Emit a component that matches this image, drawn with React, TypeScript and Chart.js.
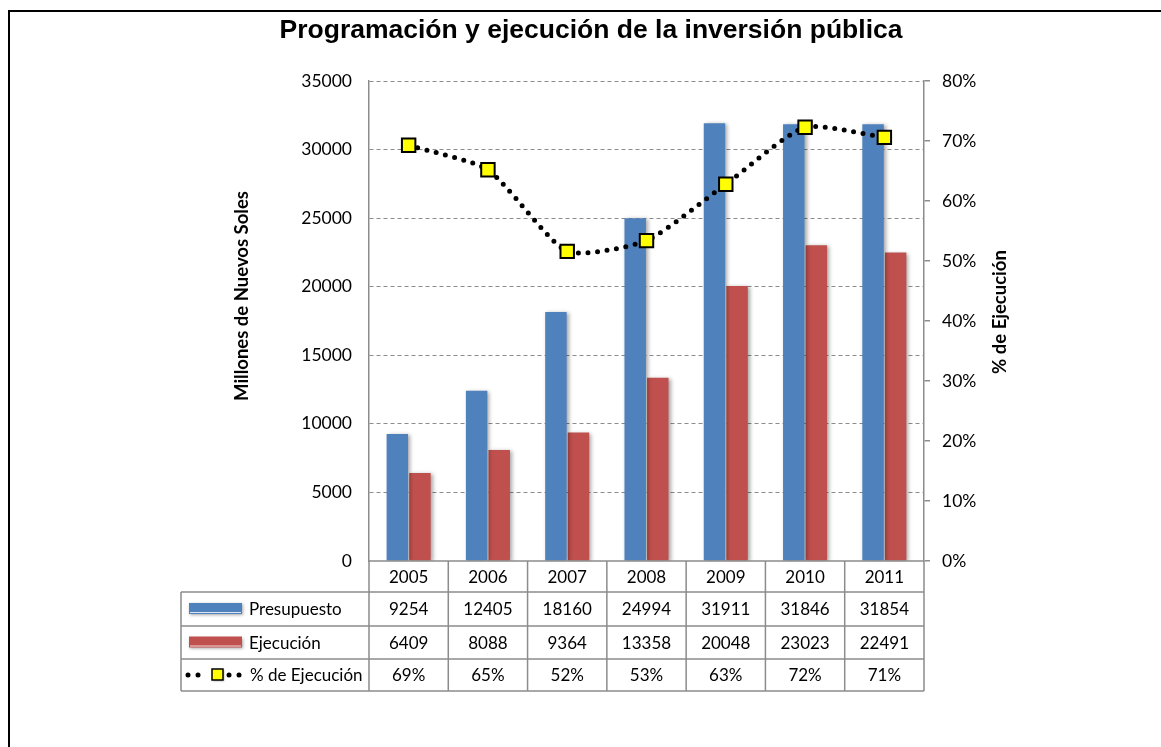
import { useEffect, useRef } from 'react';
import { Chart, registerables } from 'chart.js';

Chart.register(...registerables);

const chartTitle = 'Programación y ejecución de la inversión pública';
const leftAxisTitle = 'Millones de Nuevos Soles';
const rightAxisTitle = '% de Ejecución';

const years = ['2005', '2006', '2007', '2008', '2009', '2010', '2011'];
const presupuesto = [9254, 12405, 18160, 24994, 31911, 31846, 31854];
const ejecucion = [6409, 8088, 9364, 13358, 20048, 23023, 22491];
const porcentaje = [69.3, 65.2, 51.6, 53.4, 62.8, 72.3, 70.6];
const porcentajeLabels = ['69%', '65%', '52%', '53%', '63%', '72%', '71%'];
const seriesNames = ['Presupuesto', 'Ejecución', '% de Ejecución'];

const BLUE = '#4F81BD';
const RED = '#C0504D';
const GRID = '#8c8c8c';
const FONT = 'Lato, "Open Sans", "DejaVu Sans", sans-serif';

const shadowPlugin = {
  id: 'barShadow',
  beforeDatasetDraw(chart: any, args: any) {
    const ctx = chart.ctx;
    ctx.save();
    if (args.meta.type === 'bar') {
      ctx.shadowColor = 'rgba(0,0,0,0.35)';
      ctx.shadowBlur = 4;
      ctx.shadowOffsetX = 2;
      ctx.shadowOffsetY = 1;
    }
  },
  afterDatasetDraw(chart: any) {
    chart.ctx.restore();
  },
};

const decorPlugin = {
  id: 'decor',
  afterDraw(chart: any) {
    const ctx: CanvasRenderingContext2D = chart.ctx;
    const area = chart.chartArea;
    const xs = chart.scales.x;
    const n = years.length;
    const colW = (area.right - area.left) / n;
    const tableLeft = 181;
    const rows = [area.bottom, 592, 626, 659, 691];

    ctx.save();
    // outer frame
    ctx.strokeStyle = '#000';
    ctx.lineWidth = 2;
    ctx.strokeRect(9, 11, 1300, 900);

    // title
    ctx.fillStyle = '#000';
    ctx.font = 'bold 26.5px "Liberation Sans", Arial, sans-serif';
    ctx.textAlign = 'center';
    ctx.textBaseline = 'middle';
    ctx.fillText(chartTitle, 591, 31);

    // axis titles
    ctx.font = 'bold 18.5px ' + FONT;
    ctx.save();
    ctx.translate(242, 296);
    ctx.rotate(-Math.PI / 2);
    ctx.fillText(leftAxisTitle, 0, 0);
    ctx.restore();
    ctx.save();
    ctx.translate(1000, 312);
    ctx.rotate(-Math.PI / 2);
    ctx.fillText(rightAxisTitle, 0, 0);
    ctx.restore();

    // table lines
    ctx.strokeStyle = GRID;
    ctx.lineWidth = 1.5;
    ctx.beginPath();
    ctx.moveTo(area.left, rows[0]);
    ctx.lineTo(area.right, rows[0]);
    for (let r = 1; r < rows.length; r++) {
      ctx.moveTo(tableLeft, rows[r]);
      ctx.lineTo(area.right, rows[r]);
    }
    ctx.moveTo(tableLeft, rows[1]);
    ctx.lineTo(tableLeft, rows[4]);
    for (let k = 0; k <= n; k++) {
      const x = area.left + k * colW;
      ctx.moveTo(x, rows[0]);
      ctx.lineTo(x, rows[4]);
    }
    ctx.stroke();

    // table text
    ctx.fillStyle = '#000';
    ctx.font = '17px ' + FONT;
    ctx.textAlign = 'center';
    ctx.textBaseline = 'middle';
    const rowMid = (r: number) => (rows[r] + rows[r + 1]) / 2;
    years.forEach((yr, i) => {
      const cx = xs.getPixelForValue(i);
      ctx.fillText(yr, cx, rowMid(0) + 1);
      ctx.fillText(String(presupuesto[i]), cx, rowMid(1) + 1);
      ctx.fillText(String(ejecucion[i]), cx, rowMid(2) + 1);
      ctx.fillText(porcentajeLabels[i], cx, rowMid(3) + 1);
    });

    // legend labels
    ctx.textAlign = 'left';
    ctx.fillText(seriesNames[0], 249, rowMid(1) + 1);
    ctx.fillText(seriesNames[1], 249, rowMid(2) + 1);
    ctx.fillText(seriesNames[2], 250, rowMid(3) + 1);

    // legend swatches
    const swatch = (color: string, yMid: number) => {
      ctx.save();
      ctx.shadowColor = 'rgba(0,0,0,0.35)';
      ctx.shadowBlur = 3;
      ctx.shadowOffsetX = 1;
      ctx.shadowOffsetY = 1;
      ctx.fillStyle = color;
      ctx.fillRect(189, yMid - 6, 53, 11);
      ctx.restore();
      ctx.fillStyle = 'rgba(255,255,255,0.8)';
      ctx.fillRect(190, yMid + 3, 51, 1);
    };
    swatch(BLUE, rowMid(1));
    swatch(RED, rowMid(2));

    // line legend
    const ly = rowMid(3);
    ctx.fillStyle = '#000';
    [188, 198, 229, 239].forEach((dx) => {
      ctx.beginPath();
      ctx.arc(dx, ly, 2.5, 0, Math.PI * 2);
      ctx.fill();
    });
    ctx.save();
    ctx.shadowColor = 'rgba(0,0,0,0.35)';
    ctx.shadowBlur = 2;
    ctx.shadowOffsetX = 1;
    ctx.shadowOffsetY = 1;
    ctx.fillStyle = '#FFFF00';
    ctx.fillRect(212, ly - 6, 11, 11);
    ctx.restore();
    ctx.strokeStyle = '#000';
    ctx.lineWidth = 1.5;
    ctx.strokeRect(212, ly - 6, 11, 11);

    ctx.restore();
  },
};

export default function App() {
  const ref = useRef<HTMLCanvasElement | null>(null);

  useEffect(() => {
    if (!ref.current) return;
    const tickFont = { family: FONT, size: 17.5 };
    const chart = new Chart(ref.current, {
      type: 'bar',
      data: {
        labels: years,
        datasets: [
          {
            type: 'line',
            label: seriesNames[2],
            data: porcentaje,
            yAxisID: 'y1',
            borderColor: '#000',
            borderWidth: 5,
            borderDash: [0, 9.5],
            borderCapStyle: 'round',
            tension: 0.2,
            fill: false,
            pointStyle: 'rect',
            pointRadius: 9.5,
            pointBackgroundColor: '#FFFF00',
            pointBorderColor: '#000',
            pointBorderWidth: 2,
            order: 0,
          } as any,
          {
            type: 'bar',
            label: seriesNames[0],
            data: presupuesto,
            yAxisID: 'y',
            backgroundColor: BLUE,
            categoryPercentage: 0.57,
            barPercentage: 0.95,
            order: 1,
          },
          {
            type: 'bar',
            label: seriesNames[1],
            data: ejecucion,
            yAxisID: 'y',
            backgroundColor: RED,
            categoryPercentage: 0.57,
            barPercentage: 0.95,
            order: 1,
          },
        ],
      },
      options: {
        animation: false,
        responsive: false,
        devicePixelRatio: 1,
        layout: { padding: { top: 81, left: 0, right: 0, bottom: 0 } },
        plugins: {
          legend: { display: false },
          tooltip: { enabled: false },
          title: { display: false },
        },
        scales: {
          x: {
            type: 'category',
            offset: true,
            grid: { display: false },
            border: { display: false },
            ticks: { display: false },
            afterFit: (s: any) => {
              s.height = 186;
            },
          },
          y: {
            position: 'left',
            min: 0,
            max: 35000,
            ticks: {
              stepSize: 5000,
              padding: 17,
              font: tickFont,
              color: '#000',
              callback: (v: any) => String(v),
            },
            grid: {
              drawTicks: false,
              color: (c: any) => (c.tick && c.tick.value === 0 ? 'rgba(0,0,0,0)' : GRID),
              lineWidth: 1,
            },
            border: { display: true, color: GRID, width: 1.5, dash: [4, 3] },
            afterFit: (s: any) => {
              s.width = 369;
            },
          },
          y1: {
            position: 'right',
            min: 0,
            max: 80,
            ticks: {
              stepSize: 10,
              padding: 12,
              font: tickFont,
              color: '#000',
              callback: (v: any) => v + '%',
            },
            grid: { drawOnChartArea: false, drawTicks: true, tickLength: 6, color: GRID, lineWidth: 1.5 },
            border: { display: true, color: GRID, width: 1.5 },
            afterFit: (s: any) => {
              s.width = 237;
            },
          },
        },
      } as any,
      plugins: [shadowPlugin, decorPlugin],
    });
    return () => chart.destroy();
  }, []);

  return (
    <div style={{ position: 'absolute', left: 0, top: 0, width: 1161, height: 747, background: '#fff' }}>
      <canvas ref={ref} width={1161} height={747} style={{ display: 'block' }} />
    </div>
  );
}
